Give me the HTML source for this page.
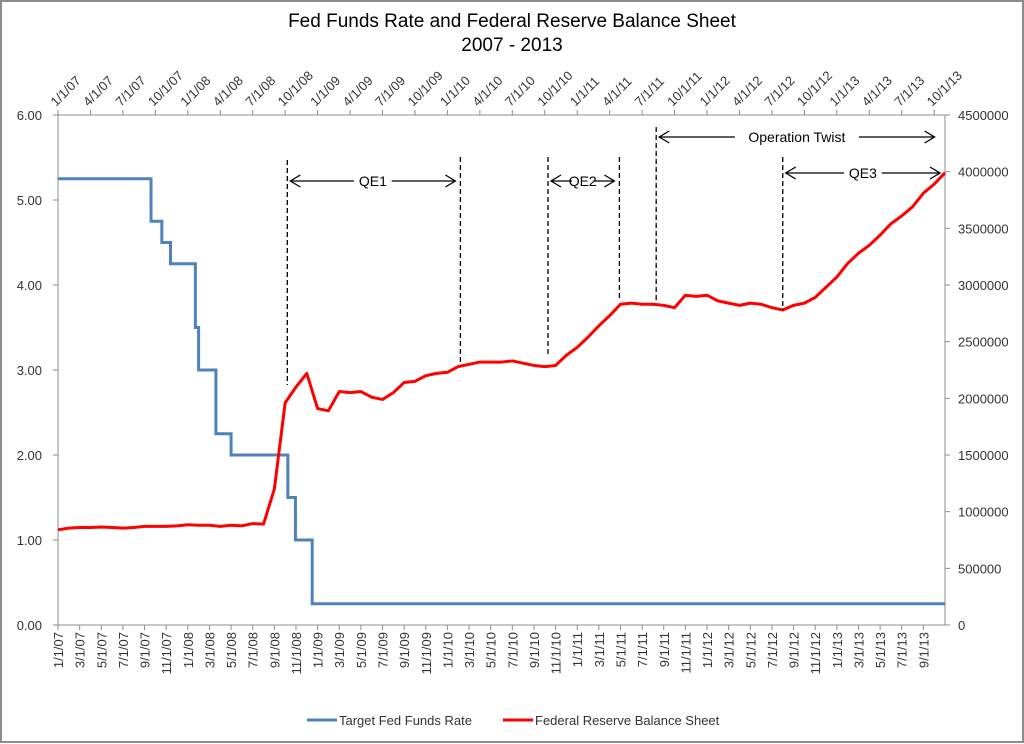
<!DOCTYPE html>
<html><head><meta charset="utf-8">
<style>
html,body{margin:0;padding:0;background:#fff;}
svg{display:block;font-family:"Liberation Sans",Arial,sans-serif;}
</style></head>
<body>
<svg id="chart" width="1024" height="744" viewBox="0 0 1024 744" xmlns="http://www.w3.org/2000/svg">
<rect x="1" y="1" width="1022" height="741" fill="#fff" stroke="#8c8c8c" stroke-width="2"/>
<text x="512" y="27" text-anchor="middle" font-size="19">Fed Funds Rate and Federal Reserve Balance Sheet</text>
<text x="512" y="51" text-anchor="middle" font-size="19">2007 - 2013</text>
<g id="g"></g>
</svg>
<script>
// Fed funds target rate: change dates (months since 1/1/07, fractional) and rates
const rateChangeMonths = [0, 8.6, 9.6, 10.4, 11.4, 12.7, 13.0, 14.6, 16.0, 21.25, 21.95, 23.5, 82];
const rateValues = [5.25, 4.75, 4.50, 4.25, 4.25, 3.50, 3.00, 2.25, 2.00, 1.50, 1.00, 0.25, 0.25];
// Balance sheet monthly (thousands of $), starting 1/07
const balanceMonths = [];
const balanceValues = [840,855,860,860,865,860,855,860,870,870,870,875,885,880,880,870,880,875,895,890,1200,1960,2100,2220,1910,1890,2060,2050,2060,2010,1990,2050,2140,2150,2200,2220,2230,2280,2300,2320,2320,2320,2330,2310,2290,2280,2290,2380,2450,2540,2640,2730,2830,2840,2830,2830,2820,2800,2910,2900,2910,2860,2840,2820,2840,2830,2800,2780,2820,2840,2890,2980,3070,3190,3280,3350,3440,3540,3610,3690,3810,3890,3990];
for (let i=0;i<balanceValues.length;i++) balanceMonths.push(i);
const leftTicks = [0,1,2,3,4,5,6];
const rightTicks = [0,500000,1000000,1500000,2000000,2500000,3000000,3500000,4000000,4500000];
const bottomLabels = ["1/1/07","3/1/07","5/1/07","7/1/07","9/1/07","11/1/07","1/1/08","3/1/08","5/1/08","7/1/08","9/1/08","11/1/08","1/1/09","3/1/09","5/1/09","7/1/09","9/1/09","11/1/09","1/1/10","3/1/10","5/1/10","7/1/10","9/1/10","11/1/10","1/1/11","3/1/11","5/1/11","7/1/11","9/1/11","11/1/11","1/1/12","3/1/12","5/1/12","7/1/12","9/1/12","11/1/12","1/1/13","3/1/13","5/1/13","7/1/13","9/1/13"];
const topLabels = ["1/1/07","4/1/07","7/1/07","10/1/07","1/1/08","4/1/08","7/1/08","10/1/08","1/1/09","4/1/09","7/1/09","10/1/09","1/1/10","4/1/10","7/1/10","10/1/10","1/1/11","4/1/11","7/1/11","10/1/11","1/1/12","4/1/12","7/1/12","10/1/12","1/1/13","4/1/13","7/1/13","10/1/13"];
// Program markers: months since 1/1/07
const eventNames = ["QE1","QE2","Operation Twist","QE3"];
const eventStart = [21.2, 45.3, 55.3, 67.0];
const eventEnd = [37.2, 51.9, 81.5, 82];
const eventStartLineTop = [160,157,127,157];
const eventStartLineBottom = [385,355,300,310];
const eventEndLineBottom = [365,300,null,null];

const X0=58, X1=945, Y0=625, Y1=115, NM=82;
const x = m => X0 + (X1-X0)*m/NM;
const yL = v => Y0 - (Y0-Y1)*v/6;
const yR = v => Y0 - (Y0-Y1)*v/4500000;
const g = document.getElementById('g');
const NS="http://www.w3.org/2000/svg";
function mk(t,a,txt){const e=document.createElementNS(NS,t);for(const k in a)e.setAttribute(k,a[k]);if(txt!=null)e.textContent=txt;g.appendChild(e);return e;}

let e=mk('line',{x1:X0,y1:Y0,x2:X1,y2:Y0,stroke:'#8c8c8c'});


e=mk('line',{x1:X0,y1:Y1,x2:X1,y2:Y1,stroke:'#8c8c8c'});


e=mk('line',{x1:X0,y1:Y1,x2:X0,y2:Y0,stroke:'#8c8c8c'});


e=mk('line',{x1:X1,y1:Y1,x2:X1,y2:Y0,stroke:'#8c8c8c'});



leftTicks.forEach(v=>{
  mk('line',{x1:X0-5,y1:yL(v),x2:X0,y2:yL(v),stroke:'#8c8c8c'});
  e=mk('text',{x:X0-16,y:yL(v)+5,'text-anchor':'end','font-size':13,fill:'#333'},v.toFixed(2));
  
  
});
rightTicks.forEach(v=>{
  mk('line',{x1:X1,y1:yR(v),x2:X1+5,y2:yR(v),stroke:'#8c8c8c'});
  e=mk('text',{x:X1+13,y:yR(v)+5,'font-size':13,fill:'#333'},String(v));
  
  
});
bottomLabels.forEach((l,i)=>{
  const xx=x(i*2);
  mk('line',{x1:xx,y1:Y0,x2:xx,y2:Y0+5,stroke:'#8c8c8c'});
  e=mk('text',{x:0,y:0,'text-anchor':'end','font-size':13,fill:'#333',transform:`translate(${xx+5},${Y0+7}) rotate(-90)`},l);
  
  
});
topLabels.forEach((l,i)=>{
  const xx=x(i*3);
  mk('line',{x1:xx,y1:Y1-5,x2:xx,y2:Y1,stroke:'#8c8c8c'});
  e=mk('text',{x:0,y:0,'font-size':13,fill:'#333',transform:`translate(${xx-2},${Y1-8}) rotate(-45)`},l);
  
  
});

let d='';
for(let i=0;i<rateValues.length;i++){
  const xx=x(rateChangeMonths[i]);
  if(i===0) d+=`M${xx},${yL(rateValues[i])}`;
  else d+=`L${xx},${yL(rateValues[i-1])}L${xx},${yL(rateValues[i])}`;
}
e=mk('path',{d,fill:'none',stroke:'#4f81bd','stroke-width':3});



d=balanceValues.map((v,i)=>(i?'L':'M')+x(balanceMonths[i])+','+yR(v*1000)).join('');
e=mk('path',{d,fill:'none',stroke:'#ff0000','stroke-width':3,'stroke-linejoin':'round'});



const arrowY=[181,181,137,173];
eventNames.forEach((n,i)=>{
  const xs=x(eventStart[i]), xe=x(eventEnd[i]);
  e=mk('line',{x1:xs,y1:eventStartLineTop[i],x2:xs,y2:eventStartLineBottom[i],stroke:'#000','stroke-width':1.3,'stroke-dasharray':'5,3'});
  
  
  if(eventEndLineBottom[i]!==null){
    e=mk('line',{x1:xe,y1:157,x2:xe,y2:eventEndLineBottom[i],stroke:'#000','stroke-width':1.3,'stroke-dasharray':'5,3'});
    
    
  }
  const ay=arrowY[i], a1=xs+3, a2=xe-5, mid=(a1+a2)/2;
  const tw = n.length*7.2+ (i===1?0:16);
  mk('path',{d:`M${a1},${ay}L${mid-tw/2},${ay}M${a1+10},${ay-6}L${a1},${ay}L${a1+10},${ay+6}`,fill:'none',stroke:'#000','stroke-width':1.3});
  mk('path',{d:`M${mid+tw/2},${ay}L${a2},${ay}M${a2-10},${ay-6}L${a2},${ay}L${a2-10},${ay+6}`,fill:'none',stroke:'#000','stroke-width':1.3});
  e=mk('text',{x:mid,y:ay+5,'text-anchor':'middle','font-size':14},n);
  
  
});

e=mk('line',{x1:307,y1:720,x2:337,y2:720,stroke:'#4f81bd','stroke-width':3});


e=mk('text',{x:339,y:725,'font-size':13,fill:'#333'},'Target Fed Funds Rate');


e=mk('line',{x1:503,y1:720,x2:533,y2:720,stroke:'#ff0000','stroke-width':3});


e=mk('text',{x:535,y:725,'font-size':13,fill:'#333'},'Federal Reserve Balance Sheet');


</script>
</body></html>
